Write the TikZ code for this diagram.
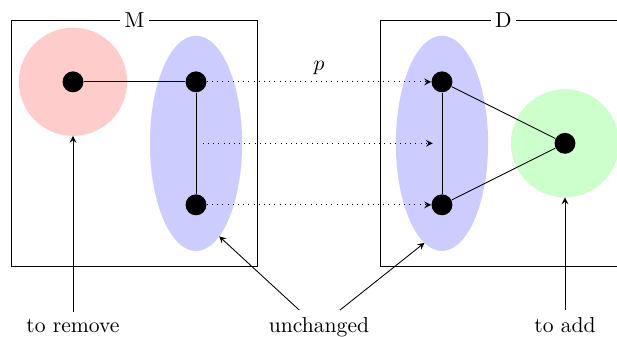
\documentclass[tikz,border=0pt]{standalone}
\usetikzlibrary{shapes,arrows,positioning,calc,arrows.meta}

\begin{document}
\begin{tikzpicture}[
    frame/.style={rectangle, draw=black, minimum width=4cm, minimum height=4cm, inner sep=0},
    title/.style={fill=white, inner sep=2pt},
    blob/.style={circle, minimum size=1.76cm, inner sep=0, outer sep=0},
    group/.style={ellipse, fill=blue!20, minimum width=1.5cm, minimum height=3.5cm, inner sep=0, outer sep=0},
    vertex/.style={circle, fill=black, minimum size=0.34cm, inner sep=0},
    map/.style={-stealth, dotted},
    arrow/.style={-stealth}
]
\useasboundingbox (-1.187,-4.133) rectangle (8.846,1.331);

% Frames
\node[frame] (mbox) at (1,-1) {};
\node[title] (mtitle) at (mbox.north) {M};
\node[frame] (dbox) at (7,-1) {};
\node[title] (dtitle) at (dbox.north) {D};

% Regions
\node[blob, fill=red!20] (rm) at (0,0) {};
\node[group] (ml) at (2,-1) {};
\node[group] (dl) at (6,-1) {};
\node[blob, fill=green!20] (ad) at (8,-1) {};

% Vertices
\node[vertex] (a) at (0,0) {};
\node[vertex] (b) at (2,0) {};
\node[vertex] (c) at (2,-2) {};
\node[vertex] (d) at (6,0) {};
\node[vertex] (e) at (6,-2) {};
\node[vertex] (f) at (8,-1) {};

% Edges
\draw (a) -- (b);
\draw (b) -- (c);
\draw (d) -- (e);
\draw (d) -- (f);
\draw (e) -- (f);

% Mapping p
\draw[map] (b) -- node[above] {$p$} (d);
\draw[map, shorten <=1.1mm, shorten >=1.5mm] (ml.center) -- (dl.center);
\draw[map] (c) -- (e);

% Labels
\node[anchor=base] (remove) at (0,-4.08) {to remove};
\node[anchor=base] (unch) at (4,-4.08) {unchanged};
\node[anchor=base] (add) at (8,-4.08) {to add};

\draw[arrow] (remove) -- (rm);
\draw[arrow] ([xshift=-3.2mm]unch.north) -- (ml.-76);
\draw[arrow] ([xshift=3.4mm]unch.north) -- (dl.-100);
\draw[arrow] (add) -- (ad);

\end{tikzpicture}
\end{document}
